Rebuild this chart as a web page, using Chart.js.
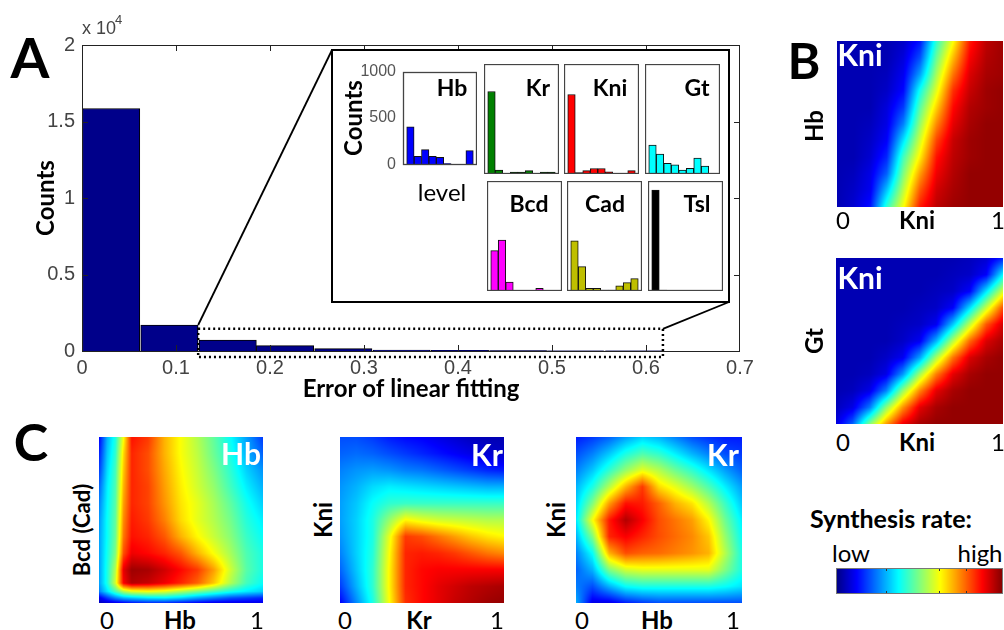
<!DOCTYPE html>
<html><head><meta charset="utf-8">
<script src="https://cdn.jsdelivr.net/npm/chart.js@4.4.1/dist/chart.umd.min.js"></script>
<style>
html,body{margin:0;padding:0;background:#fff}
#fig{position:relative;width:1004px;height:630px;overflow:hidden;background:#fff;font-family:Lato,'Open Sans',sans-serif}
#fig canvas{position:absolute}
.t{position:absolute;white-space:nowrap;line-height:1;color:#000}
</style></head>
<body><div id="fig"></div>
<script>
// ---------------- DATA ----------------
// Panel A: histogram of linear-fit error (10 bins, 0 .. 0.618)
const errorBinCenters = [0.031, 0.093, 0.155, 0.216, 0.278, 0.340, 0.402, 0.464, 0.525, 0.587];
const errorCounts     = [15850, 1700, 720, 350, 160, 60, 40, 25, 15, 10];
const errorXTicks = [0, 0.1, 0.2, 0.3, 0.4, 0.5, 0.6, 0.7];
const countYTicks = [0, 5000, 10000, 15000, 20000];

// Inset: level histograms of the badly-fitted cases (9 bins each)
const insetBins = [0, 1, 2, 3, 4, 5, 6, 7, 8];
const hbCounts  = [404, 87, 160, 87, 75, 10, 0, 0, 148];
const krCounts  = [750, 36, 6, 18, 18, 30, 6, 18, 18];
const kniCounts = [723, 12, 30, 50, 50, 20, 5, 0, 30];
const gtCounts  = [262, 181, 96, 84, 36, 51, 145, 72, 6];
const bcdCounts = [367, 464, 82, 0, 0, 0, 24, 0, 0];
const cadCounts = [455, 221, 24, 24, 9, 9, 48, 76, 112];
const tslCounts = [918, 9, 0, 0, 0, 0, 0, 0, 0];
const insetTicks = [0, 500, 1000];

// Heatmaps: synthesis rate (0 = low, 1 = high) on grids; rows from top (y=1) to bottom (y=0)
const unitX = [0, 0.1, 0.2, 0.3, 0.4, 0.5, 0.6, 0.7, 0.8, 0.9, 1];
const unitY = [1, 0.9, 0.8, 0.7, 0.6, 0.5, 0.4, 0.3, 0.2, 0.1, 0];

// B top: Kni rate vs Kni (x) and Hb (y)
const kniByHbKni = [
 [0.05,0.05,0.05,0.05,0.07,0.14,0.42,0.62,0.85,0.94,0.97],
 [0.05,0.05,0.05,0.05,0.09,0.20,0.48,0.69,0.88,0.95,0.97],
 [0.05,0.05,0.05,0.06,0.11,0.28,0.54,0.76,0.91,0.96,0.97],
 [0.05,0.05,0.05,0.07,0.13,0.39,0.60,0.83,0.93,0.97,0.98],
 [0.05,0.05,0.05,0.09,0.18,0.46,0.67,0.87,0.95,0.97,0.98],
 [0.05,0.05,0.06,0.10,0.25,0.52,0.74,0.90,0.96,0.98,0.98],
 [0.05,0.05,0.07,0.12,0.35,0.58,0.81,0.93,0.97,0.98,0.98],
 [0.05,0.05,0.08,0.16,0.44,0.64,0.86,0.94,0.97,0.98,0.98],
 [0.05,0.06,0.10,0.22,0.50,0.72,0.89,0.95,0.98,0.98,0.98],
 [0.05,0.07,0.11,0.32,0.56,0.79,0.92,0.96,0.98,0.98,0.98],
 [0.05,0.08,0.14,0.42,0.62,0.85,0.94,0.97,0.98,0.98,0.98]
];
// B bottom: Kni rate vs Kni (x) and Gt (y)
const kniByGtKni = [
 [0.05,0.05,0.05,0.05,0.05,0.05,0.05,0.05,0.06,0.08,0.15],
 [0.05,0.05,0.05,0.05,0.05,0.05,0.05,0.06,0.07,0.12,0.37],
 [0.05,0.05,0.05,0.05,0.05,0.05,0.06,0.07,0.12,0.35,0.58],
 [0.05,0.05,0.05,0.05,0.05,0.06,0.07,0.12,0.34,0.57,0.80],
 [0.05,0.05,0.05,0.05,0.06,0.07,0.11,0.32,0.56,0.79,0.92],
 [0.05,0.05,0.05,0.05,0.07,0.11,0.30,0.55,0.77,0.91,0.96],
 [0.05,0.05,0.05,0.07,0.11,0.28,0.54,0.76,0.91,0.96,0.98],
 [0.05,0.05,0.06,0.10,0.27,0.53,0.75,0.90,0.96,0.98,0.98],
 [0.05,0.06,0.10,0.25,0.52,0.74,0.90,0.96,0.98,0.98,0.98],
 [0.06,0.10,0.24,0.51,0.73,0.90,0.96,0.98,0.98,0.98,0.98],
 [0.09,0.22,0.50,0.72,0.89,0.96,0.98,0.98,0.98,0.98,0.98]
];
// C left: Hb rate vs Hb (x) and Bcd (Cad) (y)
const c1X = [0, 0.05, 0.1, 0.15, 0.2, 0.3, 0.4, 0.5, 0.6, 0.7, 0.8, 0.9, 1];
const c1Y = [1, 0.9, 0.8, 0.7, 0.6, 0.5, 0.4, 0.3, 0.2, 0.12, 0.07, 0.03, 0];
const hbByBcdHb = [
 [0.12,0.30,0.40,0.62,0.86,0.82,0.70,0.62,0.55,0.47,0.38,0.28,0.18],
 [0.15,0.32,0.42,0.66,0.84,0.80,0.70,0.62,0.56,0.48,0.40,0.30,0.22],
 [0.18,0.34,0.44,0.68,0.84,0.80,0.71,0.63,0.57,0.50,0.42,0.33,0.27],
 [0.22,0.36,0.45,0.70,0.84,0.81,0.72,0.64,0.58,0.52,0.44,0.36,0.30],
 [0.25,0.37,0.46,0.72,0.84,0.81,0.73,0.65,0.60,0.54,0.47,0.39,0.33],
 [0.27,0.38,0.47,0.74,0.85,0.82,0.75,0.66,0.60,0.55,0.49,0.41,0.36],
 [0.28,0.38,0.48,0.76,0.86,0.84,0.79,0.70,0.63,0.57,0.51,0.43,0.38],
 [0.28,0.39,0.50,0.80,0.89,0.87,0.84,0.79,0.70,0.62,0.54,0.45,0.40],
 [0.28,0.40,0.55,0.90,0.97,0.96,0.92,0.87,0.82,0.72,0.58,0.46,0.40],
 [0.28,0.40,0.58,0.88,0.95,0.93,0.89,0.84,0.78,0.68,0.55,0.44,0.38],
 [0.25,0.35,0.45,0.55,0.60,0.62,0.60,0.55,0.50,0.45,0.40,0.36,0.33],
 [0.10,0.18,0.25,0.30,0.32,0.35,0.36,0.33,0.28,0.24,0.20,0.18,0.16],
 [0.06,0.08,0.10,0.12,0.14,0.16,0.16,0.14,0.12,0.10,0.10,0.10,0.10]
];
// C middle: Kr rate vs Kr (x) and Kni (y)
const krByKniKr = [
 [0.20,0.20,0.18,0.15,0.13,0.12,0.10,0.08,0.06,0.05,0.05],
 [0.22,0.23,0.22,0.20,0.18,0.16,0.14,0.12,0.10,0.08,0.07],
 [0.25,0.27,0.28,0.27,0.25,0.24,0.22,0.20,0.18,0.16,0.15],
 [0.27,0.30,0.34,0.36,0.35,0.34,0.33,0.32,0.31,0.30,0.30],
 [0.28,0.32,0.38,0.42,0.43,0.43,0.43,0.43,0.43,0.43,0.43],
 [0.28,0.33,0.40,0.52,0.63,0.60,0.58,0.57,0.56,0.55,0.55],
 [0.27,0.33,0.40,0.60,0.82,0.80,0.76,0.72,0.68,0.65,0.63],
 [0.25,0.33,0.41,0.62,0.84,0.85,0.84,0.82,0.79,0.76,0.74],
 [0.22,0.32,0.42,0.63,0.84,0.87,0.88,0.88,0.88,0.88,0.88],
 [0.18,0.30,0.42,0.63,0.84,0.87,0.90,0.92,0.94,0.95,0.96],
 [0.12,0.26,0.40,0.62,0.83,0.87,0.90,0.93,0.95,0.97,0.98]
];
// C right: Kr rate vs Hb (x) and Kni (y)
const krByKniHb = [
 [0.15,0.18,0.22,0.28,0.33,0.30,0.25,0.20,0.17,0.15,0.15],
 [0.20,0.25,0.32,0.40,0.45,0.42,0.36,0.30,0.25,0.20,0.18],
 [0.25,0.32,0.42,0.52,0.60,0.55,0.48,0.42,0.35,0.28,0.22],
 [0.30,0.40,0.55,0.70,0.82,0.66,0.60,0.53,0.45,0.36,0.28],
 [0.33,0.50,0.72,0.86,0.85,0.78,0.70,0.65,0.55,0.43,0.32],
 [0.35,0.62,0.85,0.95,0.88,0.80,0.76,0.72,0.63,0.48,0.36],
 [0.30,0.50,0.84,0.88,0.84,0.80,0.77,0.74,0.68,0.52,0.38],
 [0.25,0.38,0.70,0.80,0.78,0.77,0.75,0.73,0.70,0.55,0.40],
 [0.22,0.30,0.50,0.58,0.60,0.60,0.60,0.60,0.60,0.50,0.40],
 [0.25,0.20,0.30,0.38,0.40,0.40,0.40,0.40,0.40,0.38,0.35],
 [0.30,0.10,0.10,0.15,0.18,0.20,0.20,0.20,0.20,0.20,0.20]
];
// Colour bar (jet, low -> high)
const colorbarLevels = [0, 1];
const colorbarTicks = [0.3, 0.617, 0.778];

// ---------------- HELPERS ----------------
const NARROW = "'Liberation Sans Narrow','Liberation Sans',Arial,sans-serif";
const SANS = "Lato,'Open Sans',sans-serif";
const fig = document.getElementById('fig');

function makeCanvas(l, t, w, h) {
  const c = document.createElement('canvas');
  c.width = w; c.height = h;
  c.style.left = l + 'px'; c.style.top = t + 'px';
  c.style.width = w + 'px'; c.style.height = h + 'px';
  fig.appendChild(c);
  return c;
}
function label(str, x, y, size, o = {}) {
  const d = document.createElement('div');
  d.className = 't';
  d.textContent = str;
  d.style.left = x + 'px'; d.style.top = y + 'px';
  d.style.fontSize = size + 'px';
  d.style.fontFamily = o.family || SANS;
  d.style.fontWeight = o.bold ? '700' : '400';
  if (o.color) d.style.color = o.color;
  let tr = o.left ? 'translate(0,-50%)' : 'translate(-50%,-50%)';
  if (o.rot) tr += ' rotate(-90deg)';
  d.style.transform = tr;
  fig.appendChild(d);
  return d;
}
function jet(v) {
  const c = t => Math.max(0, Math.min(1, t));
  return [c(1.5 - Math.abs(4 * v - 3)), c(1.5 - Math.abs(4 * v - 2)), c(1.5 - Math.abs(4 * v - 1))].map(q => Math.round(q * 255));
}
function seg(arr, v, desc) {
  const n = arr.length;
  for (let i = 0; i < n - 1; i++) {
    const a = arr[i], b = arr[i + 1];
    if (desc ? (v <= a && v >= b) : (v >= a && v <= b)) return [i, (v - a) / (b - a)];
  }
  if (desc) return v > arr[0] ? [0, 0] : [n - 2, 1];
  return v < arr[0] ? [0, 0] : [n - 2, 1];
}
function sample(g, vx, vy) {
  const [i, tx] = seg(g.xs, vx, false);
  const [j, ty] = seg(g.ys, vy, true);
  const z = g.z;
  const top = z[j][i] + (z[j][i + 1] - z[j][i]) * tx;
  const bot = z[j + 1][i] + (z[j + 1][i + 1] - z[j + 1][i]) * tx;
  return top + (bot - top) * ty;
}
function heatPlugin(g) {
  return {
    id: 'heat',
    beforeDatasetsDraw(chart) {
      const { ctx, chartArea: a, scales: { x, y } } = chart;
      const w = Math.round(a.width), h = Math.round(a.height);
      const off = document.createElement('canvas');
      off.width = w; off.height = h;
      const oc = off.getContext('2d');
      const img = oc.createImageData(w, h);
      for (let py = 0; py < h; py++) {
        const vy = y.getValueForPixel(a.top + py + 0.5);
        for (let px = 0; px < w; px++) {
          const vx = x.getValueForPixel(a.left + px + 0.5);
          const [r, gg, b] = jet(sample(g, vx, vy));
          const k = (py * w + px) * 4;
          img.data[k] = r; img.data[k + 1] = gg; img.data[k + 2] = b; img.data[k + 3] = 255;
        }
      }
      oc.putImageData(img, 0, 0);
      ctx.drawImage(off, a.left, a.top);
    }
  };
}
function heatmap(l, t, w, h, g, extra) {
  const c = makeCanvas(l, t, w, h);
  new Chart(c, {
    type: 'scatter',
    data: { datasets: [] },
    options: {
      animation: false, responsive: false,
      layout: { padding: 0 },
      plugins: { legend: { display: false }, tooltip: { enabled: false } },
      scales: {
        x: { type: 'linear', min: g.xs[0], max: g.xs[g.xs.length - 1], display: false },
        y: { type: 'linear', min: g.ys[g.ys.length - 1], max: g.ys[0], display: false }
      }
    },
    plugins: extra ? [heatPlugin(g), extra] : [heatPlugin(g)]
  });
}

// ---------------- PANEL A: main histogram ----------------
const insetBox = { left: 332, top: 50, right: 729, bottom: 302 };
const zoomRegion = { x0: 0.1236, x1: 0.618, y0: -400, y1: 1450 };

const mainDecor = {
  id: 'mainDecor',
  afterDatasetsDraw(chart) {
    const { ctx, chartArea: a, scales: { x, y } } = chart;
    ctx.save();
    ctx.strokeStyle = '#222'; ctx.lineWidth = 1;
    const line = (x1, y1, x2, y2) => { ctx.beginPath(); ctx.moveTo(x1, y1); ctx.lineTo(x2, y2); ctx.stroke(); };
    x.ticks.forEach(tk => {
      if (tk.value <= x.min || tk.value >= x.max) return;
      const px = Math.round(x.getPixelForValue(tk.value)) + 0.5;
      line(px, a.bottom, px, a.bottom - 6); line(px, a.top, px, a.top + 6);
    });
    y.ticks.forEach(tk => {
      if (tk.value <= y.min || tk.value >= y.max) return;
      const py = Math.round(y.getPixelForValue(tk.value)) + 0.5;
      line(a.left, py, a.left + 6, py); line(a.right, py, a.right - 6, py);
    });
    ctx.strokeRect(Math.round(a.left) + 0.5, Math.round(a.top) + 0.5, Math.round(a.width) - 1, Math.round(a.height));
    // dotted zoom region
    const zx0 = x.getPixelForValue(zoomRegion.x0), zx1 = x.getPixelForValue(zoomRegion.x1);
    const zy0 = y.getPixelForValue(zoomRegion.y0), zy1 = y.getPixelForValue(zoomRegion.y1);
    ctx.strokeStyle = '#000'; ctx.lineWidth = 2.5; ctx.setLineDash([2, 3]);
    ctx.strokeRect(zx0, zy1, zx1 - zx0, zy0 - zy1);
    ctx.setLineDash([]);
    // connectors
    ctx.lineWidth = 1.8;
    line(zx0, y.getPixelForValue(errorCounts[1]), insetBox.left, insetBox.top);
    line(zx1, zy1, insetBox.right, insetBox.bottom);
    // inset frame
    ctx.fillStyle = '#fff';
    ctx.fillRect(insetBox.left, insetBox.top, insetBox.right - insetBox.left, insetBox.bottom - insetBox.top);
    ctx.lineWidth = 2; ctx.strokeStyle = '#000';
    ctx.strokeRect(insetBox.left, insetBox.top, insetBox.right - insetBox.left, insetBox.bottom - insetBox.top);
    ctx.restore();
  }
};

new Chart(makeCanvas(0, 0, 760, 404), {
  type: 'bar',
  data: { datasets: [{
    data: errorBinCenters.map((v, i) => ({ x: v, y: errorCounts[i] })),
    backgroundColor: '#00008a', borderColor: '#000', borderWidth: 1,
    barPercentage: 1, categoryPercentage: 1
  }] },
  options: {
    animation: false, responsive: false,
    layout: { padding: { left: 32, top: 45, right: 20, bottom: 0 } },
    plugins: { legend: { display: false }, tooltip: { enabled: false } },
    scales: {
      x: {
        type: 'linear', min: 0, max: 0.7, offset: false,
        grid: { display: false, drawTicks: false }, border: { display: false },
        afterBuildTicks: s => { s.ticks = errorXTicks.map(v => ({ value: v })); },
        ticks: { padding: 5, color: '#444', font: { family: NARROW, size: 20 }, maxRotation: 0, autoSkip: false,
                 callback: v => String(+(+v).toFixed(1)) },
        title: { display: true, text: 'Error of linear fitting', color: '#000', padding: 0,
                 font: { family: SANS, weight: 'bold', size: 24, lineHeight: 1.2 } },
        afterFit: s => { s.height = 53; }
      },
      y: {
        type: 'linear', min: 0, max: 20000,
        grid: { display: false, drawTicks: false }, border: { display: false },
        afterBuildTicks: s => { s.ticks = countYTicks.map(v => ({ value: v })); },
        ticks: { padding: 7, color: '#444', font: { family: NARROW, size: 20 }, callback: v => String(v / 1e4) },
        title: { display: true, text: 'Counts', color: '#000', padding: 0,
                 font: { family: SANS, weight: 'bold', size: 24, lineHeight: 1.2 } },
        afterFit: s => { s.width = 50; }
      }
    }
  },
  plugins: [mainDecor]
});

// ---------------- INSET small histograms ----------------
const frame = {
  id: 'frame',
  afterDatasetsDraw(chart) {
    const { ctx, chartArea: a } = chart;
    ctx.save(); ctx.strokeStyle = '#444'; ctx.lineWidth = 1.3;
    ctx.strokeRect(Math.round(a.left) + 0.5, Math.round(a.top) + 0.5, Math.round(a.width) - 1, Math.round(a.height) - 1);
    ctx.restore();
  }
};
function insetChart(r, counts, color, withAxis) {
  const padL = withAxis ? 44 : 0, padT = withAxis ? 9 : 0, padB = withAxis ? 7 : 0;
  const c = makeCanvas(r[0] - padL, r[1] - padT, r[2] - r[0] + padL, r[3] - r[1] + padT + padB);
  new Chart(c, {
    type: 'bar',
    data: { datasets: [{
      data: insetBins.map((b, i) => ({ x: b, y: counts[i] })),
      backgroundColor: color, borderColor: '#111', borderWidth: 1,
      barPercentage: 1, categoryPercentage: 1
    }] },
    options: {
      animation: false, responsive: false,
      layout: { padding: { left: 0, right: 0, top: padT, bottom: padB } },
      plugins: { legend: { display: false }, tooltip: { enabled: false } },
      scales: {
        x: { type: 'linear', min: -1, max: 9, offset: false, display: false },
        y: {
          type: 'linear', min: 0, max: 1000, display: withAxis,
          grid: { display: false, drawTicks: false }, border: { display: false },
          afterBuildTicks: s => { s.ticks = insetTicks.map(v => ({ value: v })); },
          ticks: { padding: 7, color: '#555', font: { family: NARROW, size: 16 }, callback: v => String(v) },
          afterFit: s => { s.width = padL; }
        }
      }
    },
    plugins: [frame]
  });
}
insetChart([403, 64, 477, 174], hbCounts, '#0000ff', true);
insetChart([484, 64, 559, 174], krCounts, '#008000', false);
insetChart([564, 64, 639, 174], kniCounts, '#ff0000', false);
insetChart([645, 64, 720, 174], gtCounts, '#00ffff', false);
insetChart([487, 181, 562, 291], bcdCounts, '#ff00ff', false);
insetChart([567, 181, 642, 291], cadCounts, '#bfbf00', false);
insetChart([648, 181, 723, 291], tslCounts, '#000000', false);

// ---------------- HEATMAPS ----------------
heatmap(837, 41, 166, 166, { xs: unitX, ys: unitY, z: kniByHbKni });
heatmap(836, 258, 167, 166, { xs: unitX, ys: unitY, z: kniByGtKni });
heatmap(99, 437, 164, 166, { xs: c1X, ys: c1Y, z: hbByBcdHb });
heatmap(340, 437, 164, 166, { xs: unitX, ys: unitY, z: krByKniKr });
heatmap(576, 437, 166, 166, { xs: unitX, ys: unitY, z: krByKniHb });

// colour bar
const cbDecor = {
  id: 'cbDecor',
  afterDatasetsDraw(chart) {
    const { ctx, chartArea: a, scales: { x } } = chart;
    ctx.save(); ctx.strokeStyle = '#333'; ctx.lineWidth = 1;
    colorbarTicks.forEach(v => {
      const px = Math.round(x.getPixelForValue(v)) + 0.5;
      ctx.beginPath(); ctx.moveTo(px, a.top); ctx.lineTo(px, a.top + 3);
      ctx.moveTo(px, a.bottom); ctx.lineTo(px, a.bottom - 3); ctx.stroke();
    });
    ctx.strokeStyle = '#777';
    ctx.strokeRect(a.left + 0.5, a.top + 0.5, a.width - 1, a.height - 1);
    ctx.restore();
  }
};
heatmap(836, 568, 167, 26, { xs: colorbarLevels, ys: [1, 0], z: [colorbarLevels, colorbarLevels] }, cbDecor);

// ---------------- TEXT ----------------
label('A', 30, 57, 56, { bold: true });
label('B', 804, 60, 50, { bold: true });
label('C', 31, 441, 52, { bold: true });
label('x 10', 82, 28, 18, { family: NARROW, color: '#444', left: true });
label('4', 115, 19, 13, { family: NARROW, color: '#444', left: true });

// inset labels
label('Counts', 353, 118, 24, { bold: true, rot: true });
label('level', 442, 192, 24);
label('Hb', 452, 87, 23, { bold: true });
label('Kr', 538, 87, 23, { bold: true });
label('Kni', 610, 87, 23, { bold: true });
label('Gt', 697, 87, 23, { bold: true });
label('Bcd', 529, 203, 23, { bold: true });
label('Cad', 605, 203, 23, { bold: true });
label('Tsl', 697, 203, 23, { bold: true });

// B labels
label('Kni', 860, 54, 30, { bold: true, color: '#fff' });
label('Hb', 814, 126, 24, { bold: true, rot: true });
label('0', 843, 220, 24); label('Kni', 917, 220, 24, { bold: true }); label('1', 998, 220, 24);
label('Kni', 860, 277, 30, { bold: true, color: '#fff' });
label('Gt', 814, 341, 24, { bold: true, rot: true });
label('0', 843, 442, 24); label('Kni', 917, 442, 24, { bold: true }); label('1', 998, 442, 24);

// C labels
label('Hb', 241, 453, 30, { bold: true, color: '#fff' });
label('Bcd (Cad)', 82, 530, 22, { bold: true, rot: true });
label('0', 107, 620, 24); label('Hb', 180, 620, 24, { bold: true }); label('1', 257, 620, 24);
label('Kr', 487, 454, 30, { bold: true, color: '#fff' });
label('Kni', 323, 520, 24, { bold: true, rot: true });
label('0', 345, 620, 24); label('Kr', 419, 620, 24, { bold: true }); label('1', 497, 620, 24);
label('Kr', 723, 454, 30, { bold: true, color: '#fff' });
label('Kni', 556, 520, 24, { bold: true, rot: true });
label('0', 582, 620, 24); label('Hb', 657, 620, 24, { bold: true }); label('1', 733, 620, 24);

// colour bar labels
label('Synthesis rate:', 810, 518, 25, { bold: true, left: true });
label('low', 851, 553, 24);
label('high', 980, 553, 24);
</script>
</body></html>
